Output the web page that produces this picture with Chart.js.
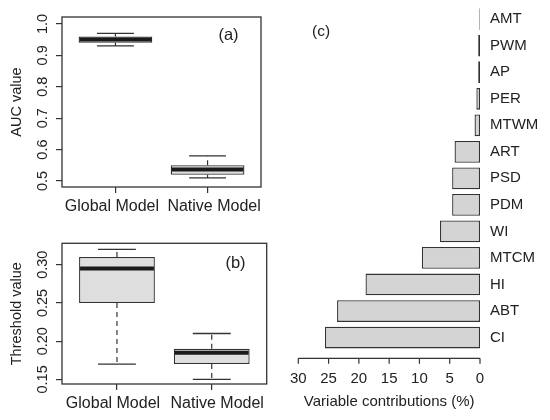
<!DOCTYPE html>
<html>
<head>
<meta charset="utf-8">
<script src="https://cdn.jsdelivr.net/npm/chart.js@4.4.1/dist/chart.umd.min.js"></script>
<style>
    body { margin: 0; background: #fff; }
    #wrap { position: relative; width: 550px; height: 420px; overflow: hidden; }
    canvas { position: absolute; }
</style>
</head>
<body>
<div id="wrap">
    <canvas id="aucChart" width="275" height="222" style="left:0;top:0"></canvas>
    <canvas id="thrChart" width="280" height="198" style="left:0;top:222px"></canvas>
    <canvas id="contribChart" width="270" height="420" style="left:280px;top:0"></canvas>
</div>
<script>
// box plot panels
const models = ['Global Model', 'Native Model'];

const aucMin = [0.93, 0.51];
const aucQ1 = [0.94, 0.52];
const aucMed = [0.95, 0.537];
const aucQ3 = [0.96, 0.55];
const aucMax = [0.97, 0.58];
const aucTicks = [0.5, 0.6, 0.7, 0.8, 0.9, 1.0];

const thrMin = [0.17, 0.15];
const thrQ1 = [0.25, 0.17];
const thrMed = [0.295, 0.185];
const thrQ3 = [0.31, 0.19];
const thrMax = [0.32, 0.21];
const thrTicks = [0.15, 0.20, 0.25, 0.30];

// variable contributions panel
const variables = ['AMT', 'PWM', 'AP', 'PER', 'MTWM', 'ART', 'PSD', 'PDM', 'WI', 'MTCM', 'HI', 'ABT', 'CI'];
const contrib = [0.1, 0.3, 0.3, 0.6, 0.9, 4.2, 4.6, 4.6, 6.6, 9.6, 18.9, 23.6, 25.6];
const contribTicks = [0, 5, 10, 15, 20, 25, 30];

const FONT = '"Liberation Sans", Arial, Helvetica, sans-serif';
const INK = '#222';
const LINE = '#333';

Chart.defaults.font.family = FONT;
Chart.defaults.color = INK;
Chart.defaults.animation = false;

function noPad(s) {
    s.paddingTop = 0;
    s.paddingBottom = 0;
    s.paddingLeft = 0;
    s.paddingRight = 0;
}

function boxPlugin(stats, letter, letterPos, nudge) {
    return {
        id: 'boxExtras',
        afterDatasetsDraw(chart) {
            const ctx = chart.ctx;
            const x = chart.scales.x;
            const y = chart.scales.y;
            const area = chart.chartArea;
            const half = x.getPixelForValue(1.2) - x.getPixelForValue(1);
            const boxHalf = x.getPixelForValue(1.4) - x.getPixelForValue(1);

            ctx.save();
            stats.med.forEach((m, i) => {
                const cx = x.getPixelForValue(i + 1);
                // whiskers
                ctx.strokeStyle = LINE;
                ctx.lineWidth = 1.2;
                ctx.setLineDash([5, 4]);
                ctx.beginPath();
                ctx.moveTo(cx, y.getPixelForValue(stats.q3[i]));
                ctx.lineTo(cx, y.getPixelForValue(stats.max[i]));
                ctx.moveTo(cx, y.getPixelForValue(stats.q1[i]));
                ctx.lineTo(cx, y.getPixelForValue(stats.min[i]));
                ctx.stroke();
                ctx.setLineDash([]);
                ctx.lineWidth = 1.4;
                ctx.beginPath();
                ctx.moveTo(cx - half, y.getPixelForValue(stats.max[i]));
                ctx.lineTo(cx + half, y.getPixelForValue(stats.max[i]));
                ctx.moveTo(cx - half, y.getPixelForValue(stats.min[i]));
                ctx.lineTo(cx + half, y.getPixelForValue(stats.min[i]));
                ctx.stroke();
                // median
                ctx.strokeStyle = '#1a1a1a';
                ctx.lineWidth = 4;
                ctx.beginPath();
                ctx.moveTo(cx - boxHalf + 1, y.getPixelForValue(m));
                ctx.lineTo(cx + boxHalf - 1, y.getPixelForValue(m));
                ctx.stroke();
            });

            // frame
            ctx.strokeStyle = LINE;
            ctx.lineWidth = 1.3;
            ctx.strokeRect(area.left, area.top, area.right - area.left, area.bottom - area.top);

            // rotated y tick labels
            ctx.fillStyle = INK;
            ctx.font = '14.5px ' + FONT;
            ctx.textAlign = 'center';
            ctx.textBaseline = 'middle';
            y.ticks.forEach(t => {
                ctx.save();
                ctx.translate(area.left - 19, y.getPixelForValue(t.value));
                ctx.rotate(-Math.PI / 2);
                ctx.fillText(t.label, 0, 0);
                ctx.restore();
            });

            // category labels under the ticks
            ctx.font = '16px ' + FONT;
            x.ticks.forEach((t, i) => {
                ctx.fillText(t.label, x.getPixelForValue(t.value) + nudge[i], area.bottom + 20);
            });

            // panel letter
            ctx.font = '16.5px ' + FONT;
            ctx.fillText(letter, letterPos[0], letterPos[1]);
            ctx.restore();
        }
    };
}

function boxChart(id, stats, ticks, digits, title, letter, letterPos, nudge, yMin, yMax, pad) {
    return new Chart(document.getElementById(id), {
        type: 'bar',
        data: {
            datasets: [{
                data: models.map((m, i) => ({ x: i + 1, y: [stats.q1[i], stats.q3[i]] })),
                backgroundColor: '#dedede',
                borderColor: LINE,
                borderWidth: 1.3,
                borderSkipped: false,
                categoryPercentage: 1,
                barPercentage: 0.8
            }]
        },
        options: {
            responsive: false,
            layout: { padding: pad },
            plugins: {
                legend: { display: false },
                tooltip: { enabled: false }
            },
            scales: {
                x: {
                    type: 'linear',
                    offset: false,
                    min: 0.42,
                    max: 2.58,
                    afterBuildTicks: s => { s.ticks = models.map((m, i) => ({ value: i + 1 })); },
                    afterFit: s => { noPad(s); s.height = 30.3; },
                    ticks: {
                        display: false,
                        callback: (v, i) => models[i]
                    },
                    grid: { offset: false, drawOnChartArea: false, tickLength: 6, color: LINE, lineWidth: 1.2 },
                    border: { display: false }
                },
                y: {
                    min: yMin,
                    max: yMax,
                    afterBuildTicks: s => { s.ticks = ticks.map(v => ({ value: v })); },
                    afterFit: s => { noPad(s); s.width = 62; },
                    ticks: {
                        display: false,
                        callback: v => v.toFixed(digits)
                    },
                    grid: { drawOnChartArea: false, tickLength: 6, color: LINE, lineWidth: 1.2 },
                    border: { display: false },
                    title: {
                        display: true,
                        text: title,
                        font: { size: 14.5 },
                        padding: { top: 8.3, bottom: 30.3 }
                    }
                }
            }
        },
        plugins: [boxPlugin(stats, letter, letterPos, nudge)]
    });
}

boxChart('aucChart',
    { min: aucMin, q1: aucQ1, med: aucMed, q3: aucQ3, max: aucMax },
    aucTicks, 1, 'AUC value', '(a)', [228.5, 35], [-3.5, 6.5], 0.481, 1.022,
    { top: 17, right: 14, bottom: 4.7, left: 0 });

boxChart('thrChart',
    { min: thrMin, q1: thrQ1, med: thrMed, q3: thrQ3, max: thrMax },
    thrTicks, 2, 'Threshold value', '(b)', [235.5, 41], [-4, 5.5], 0.144, 0.328,
    { top: 21.3, right: 13.3, bottom: 5.7, left: 0 });

// horizontal bar panel
const axisPlugin = {
    id: 'contribAxis',
    afterDraw(chart) {
        const ctx = chart.ctx;
        const x = chart.scales.x;
        const yLine = chart.chartArea.bottom + 7.5;
        ctx.save();
        ctx.strokeStyle = LINE;
        ctx.lineWidth = 1.2;
        ctx.beginPath();
        ctx.moveTo(x.getPixelForValue(contribTicks[contribTicks.length - 1]), yLine);
        ctx.lineTo(x.getPixelForValue(contribTicks[0]), yLine);
        contribTicks.forEach(v => {
            const px = x.getPixelForValue(v);
            ctx.moveTo(px, yLine);
            ctx.lineTo(px, yLine + 5.5);
        });
        ctx.stroke();
        ctx.fillStyle = INK;
        ctx.font = '15.5px ' + FONT;
        ctx.textAlign = 'center';
        ctx.textBaseline = 'middle';
        ctx.fillText('(c)', 41, 32);
        ctx.restore();
    }
};

new Chart(document.getElementById('contribChart'), {
    type: 'bar',
    data: {
        labels: variables,
        datasets: [{
            data: contrib,
            backgroundColor: '#d4d4d4',
            borderColor: LINE,
            borderWidth: 1.3,
            borderSkipped: false,
            categoryPercentage: 1,
            barPercentage: 0.82
        }]
    },
    options: {
        indexAxis: 'y',
        responsive: false,
        layout: { padding: { left: 18.3, top: 5.9, right: 0, bottom: 0 } },
        plugins: {
            legend: { display: false },
            tooltip: { enabled: false }
        },
        scales: {
            x: {
                min: 0,
                max: 30,
                reverse: true,
                afterBuildTicks: s => { s.ticks = contribTicks.map(v => ({ value: v })); },
                afterFit: s => { noPad(s); s.height = 69.2; },
                ticks: { font: { size: 15 }, padding: 19.2, maxRotation: 0, autoSkip: false },
                grid: { display: false, drawTicks: false },
                border: { display: false },
                title: {
                    display: true,
                    text: 'Variable contributions (%)',
                    font: { size: 15 },
                    padding: { top: 5, bottom: 9 }
                }
            },
            y: {
                position: 'right',
                afterFit: s => { noPad(s); s.width = 70; },
                ticks: { font: { size: 15 }, padding: 10, autoSkip: false },
                grid: { display: false, drawTicks: false },
                border: { display: false }
            }
        }
    },
    plugins: [axisPlugin]
});
</script>
</body>
</html>
